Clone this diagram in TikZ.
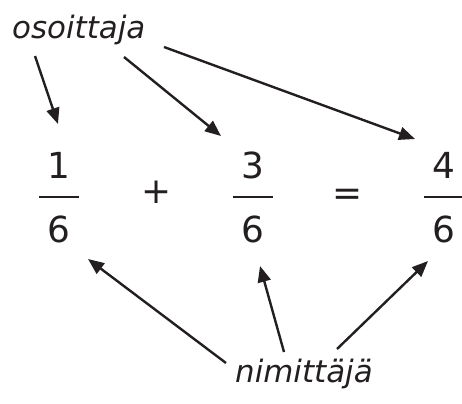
\documentclass[tikz,border=0pt]{standalone}
\usepackage{fontspec}
\setmainfont{DejaVu Sans}
\usetikzlibrary{arrows.meta}
\definecolor{ink}{RGB}{35,31,32}
\tikzset{
  arr/.style={-{Triangle[length=16bp,width=13bp]}, line width=2.4bp, ink},
  word/.style={font=\fontsize{31}{36}\selectfont\itshape, text=ink, inner sep=0pt},
  digit/.style={font=\fontsize{36}{40}\selectfont, text=ink, inner sep=0pt, anchor=base},
  bar/.style={line width=2.4bp, ink}
}
\begin{document}
\begin{tikzpicture}[x=1bp, y=-1bp]
\useasboundingbox (0,0) rectangle (462,403);
% labels
\node[word, anchor=base west] (osoittaja) at (12,38) {osoittaja};
\node[word, anchor=base west] (nimittaja) at (235,382) {nimittäjä};
% fractions
\node[digit] (n1) at (59,178) {1};
\node[digit] (d1) at (59,242) {6};
\node[digit] (n2) at (253,178) {3};
\node[digit] (d2) at (253,242) {6};
\node[digit] (n3) at (444,178) {4};
\node[digit] (d3) at (444,242) {6};
\draw[bar] (39,197) -- (79,197);
\draw[bar] (233,197) -- (273,197);
\draw[bar] (424,197) -- (464,197);
\node[digit, anchor=center] (plus) at (157,192) {+};
\node[digit, anchor=center] (eq) at (348,197) {=};
% arrow ends
\coordinate (o1) at (35,56);   \coordinate (t1) at (58,124);
\coordinate (o2) at (124,57);  \coordinate (t2) at (221,136);
\coordinate (o3) at (164,47);  \coordinate (t3) at (415,139);
\coordinate (m1) at (226,363); \coordinate (b1) at (88,259);
\coordinate (m2) at (284,352); \coordinate (b2) at (260,266);
\coordinate (m3) at (337,349); \coordinate (b3) at (428,261);
% numerator arrows
\draw[arr] (o1) -- (t1);
\draw[arr] (o2) -- (t2);
\draw[arr] (o3) -- (t3);
% denominator arrows
\draw[arr] (m1) -- (b1);
\draw[arr] (m2) -- (b2);
\draw[arr] (m3) -- (b3);
\end{tikzpicture}
\end{document}
